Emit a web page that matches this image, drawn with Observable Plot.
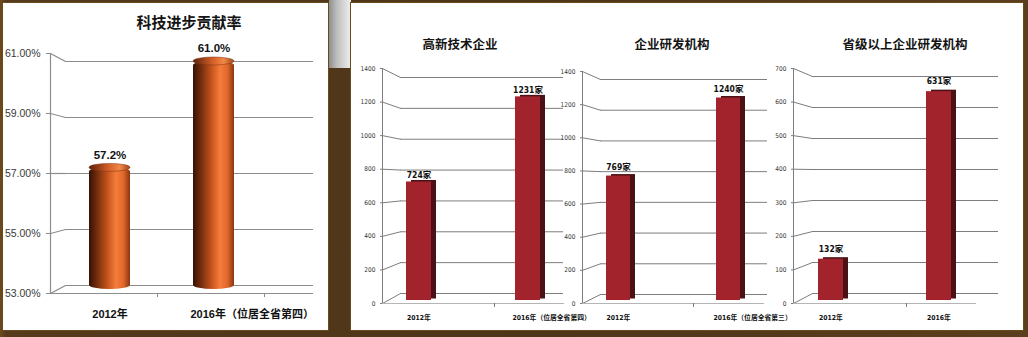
<!DOCTYPE html>
<html>
<head>
<meta charset="utf-8">
<script src="https://cdn.jsdelivr.net/npm/d3@7"></script>
<script src="https://cdn.jsdelivr.net/npm/@observablehq/plot@0.6"></script>
<style>
html, body { margin: 0; padding: 0; background: #553a1c; }
#page { position: relative; width: 1028px; height: 337px; overflow: hidden;
  background: linear-gradient(90deg, #6e4b1e 0px, #553a1c 6px, #4d3519 50%, #5a3e1d 100%); }
.panel { position: absolute; background: #fff; box-sizing: border-box; border: 1px solid #6a4a1c; }
.shade { position: absolute; left: 329px; top: 0; width: 22px; height: 68px;
  background: linear-gradient(90deg, #8e8e8e 0%, #bdbdbd 35%, #efefef 100%); }
.layer { position: absolute; left: 0; top: 0; pointer-events: none; }
.title { position: absolute; transform: translate(-50%, -50%); white-space: nowrap;
  font-family: "Noto Sans CJK SC", sans-serif; font-weight: 700; color: #141414; }
</style>
</head>
<body>
<div id="page">
  <div class="shade"></div>
  <div class="panel" style="left:2px; top:2px; width:327px; height:329px;"></div>
  <div class="panel" style="left:350px; top:2px; width:674px; height:329px;"></div>
  <svg width="0" height="0" style="position:absolute">
    <defs>
      <linearGradient id="cyl" x1="0" x2="1" y1="0" y2="0">
        <stop offset="0" stop-color="#361104"/>
        <stop offset="0.18" stop-color="#6e2a0c"/>
        <stop offset="0.45" stop-color="#c4541c"/>
        <stop offset="0.66" stop-color="#f57c3a"/>
        <stop offset="0.84" stop-color="#e0682a"/>
        <stop offset="1" stop-color="#8a3510"/>
      </linearGradient>
      <linearGradient id="cap" x1="0" x2="1" y1="0" y2="0">
        <stop offset="0" stop-color="#5a200a"/>
        <stop offset="0.5" stop-color="#d9622a"/>
        <stop offset="0.75" stop-color="#f0884a"/>
        <stop offset="1" stop-color="#a04516"/>
      </linearGradient>
    </defs>
  </svg>
</div>
<script>
// ---------- data ----------
const rateTitle = "科技进步贡献率";
const rateCategories = ["2012年", "2016年（位居全省第四）"];
const rateValues = [57.2, 61.0];
const rateTicks = [53, 55, 57, 59, 61];

const hiTechTitle = "高新技术企业";
const hiTechCategories = ["2012年", "2016年（位居全省第四）"];
const hiTechValues = [724, 1231];

const rdTitle = "企业研发机构";
const rdCategories = ["2012年", "2016年（位居全省第三）"];
const rdValues = [769, 1240];

const provTitle = "省级以上企业研发机构";
const provCategories = ["2012年", "2016年"];
const provValues = [132, 631];

const countTicks = [0, 200, 400, 600, 800, 1000, 1200, 1400];
const provTicks = [0, 100, 200, 300, 400, 500, 600, 700];

// ---------- layout ----------
const W = 1028, H = 337;
const page = document.getElementById("page");
const addLayer = node => { node.classList.add("layer"); page.appendChild(node); };
const addTitle = (text, x, y, size) => {
  const d = document.createElement("div");
  d.className = "title"; d.textContent = text;
  d.style.left = x + "px"; d.style.top = y + "px"; d.style.fontSize = size + "px";
  page.appendChild(d);
};

function buildChart(cfg) {
  const d0 = cfg.ticks[0], d1 = cfg.ticks[cfg.ticks.length - 1];
  const domain = [d0, d1];
  const fy = Plot.scale({y: {domain, range: cfg.front}});
  const by = Plot.scale({y: {domain, range: cfg.back}});
  const span = cfg.wallRight - cfg.axisX;
  const xLin = {type: "linear", domain: [0, span], range: [cfg.axisX, cfg.wallRight], axis: null};
  const base = {
    width: W, height: H, marginLeft: cfg.axisX, marginRight: W - cfg.wallRight,
    marginTop: 0, marginBottom: 0,
    style: {background: "transparent", overflow: "visible", fontFamily: cfg.font}
  };
  // back wall
  addLayer(Plot.plot({
    ...base, x: xLin, y: {domain, range: cfg.back, axis: null},
    marks: [
      Plot.ruleY(cfg.ticks, {x1: cfg.depth, x2: span, stroke: cfg.gridColor, strokeWidth: cfg.gridWidth})
    ]
  }));
  // front frame + axis
  addLayer(Plot.plot({
    ...base, x: xLin, y: {domain, range: cfg.front, axis: null},
    marks: [
      Plot.link(cfg.ticks, {x1: 0, x2: cfg.depth, y1: d => d, y2: d => fy.invert(by.apply(d)),
        stroke: cfg.gridColor, strokeWidth: cfg.gridWidth}),
      Plot.ruleY([d0], {x1: 0, x2: cfg.floorLen, stroke: cfg.floorColor, strokeWidth: cfg.gridWidth}),
      Plot.ruleX(cfg.boundaries, {y1: d0, y2: d0, insetBottom: -4, stroke: cfg.gridColor}),
      Plot.ruleX([0], {y1: d0, y2: d1, stroke: cfg.gridColor, strokeWidth: cfg.gridWidth}),
      Plot.axisY(cfg.ticks, {anchor: "left", tickSize: cfg.tickSize, tickPadding: cfg.tickPadding,
        tickFormat: cfg.tickFormat, fontSize: cfg.tickFont, fill: cfg.tickColor,
        stroke: cfg.gridColor, label: null})
    ]
  }));
  // bars
  const bars = cfg.categories.map((c, i) => ({category: c, value: cfg.values[i]}));
  const xBand = {type: "band", domain: cfg.categories, range: cfg.barRange,
    paddingInner: cfg.paddingInner, paddingOuter: cfg.paddingOuter, axis: null};
  const bw = Plot.scale({x: xBand}).bandwidth;
  const barMarks = cfg.cylinder ? [
    Plot.barY(bars, {x: "category", y1: d0, y2: "value", insetBottom: -4, rx: bw / 2, ry: 4, fill: "url(#cyl)"}),
    Plot.barY(bars, {x: "category", y1: "value", y2: "value", insetTop: -4, insetBottom: -4, rx: bw / 2, ry: 4,
      fill: "url(#cap)", stroke: "#7a3210", strokeWidth: 0.5})
  ] : [
    Plot.barY(bars, {x: "category", y1: d0, y2: "value", insetBottom: 3, dx: 5, dy: -1.5, fill: cfg.sideColor}),
    Plot.barY(bars, {x: "category", y1: d0, y2: "value", insetBottom: 3, fill: cfg.barColor})
  ];
  addLayer(Plot.plot({
    ...base, marginLeft: 0, marginRight: 0, marginBottom: H - cfg.labelY,
    x: xBand, y: {domain, range: cfg.barScale, axis: null},
    marks: [
      ...barMarks,
      Plot.text(bars, {x: "category", y: "value", text: cfg.valueFormat, dy: cfg.valueDy,
        fontSize: cfg.valueFont, fontWeight: "bold", fill: "#111"}),
      Plot.text(bars.filter(d => d.category.length <= 6), {x: "category", text: "category",
        frameAnchor: "bottom", lineAnchor: "middle", fontSize: cfg.catFont, fontWeight: "bold", fill: "#111"}),
      Plot.text(bars.filter(d => d.category.length > 6), {x: "category", text: "category",
        frameAnchor: "bottom", lineAnchor: "middle", textAnchor: "start", dx: -bw / 2 - 3,
        fontSize: cfg.catFont, fontWeight: "bold", fill: "#111"})
    ]
  }));
}

const narrow = '"Liberation Sans Narrow", "DejaVu Sans Condensed", "Liberation Sans", "Noto Sans CJK SC", sans-serif';
const rightCommon = {
  font: narrow, gridColor: "#7d7d7d", gridWidth: 1, floorColor: "#b5b5b5",
  tickSize: 2, tickPadding: 5, tickFont: 6.5, tickColor: "#333",
  tickFormat: d => String(d), valueFont: 8.5, catFont: 6.8, labelY: 317,
  barColor: "#a2232b", sideColor: "#4a1216", valueFormat: d => d.value + "家"
};

// Left: 科技进步贡献率
buildChart({
  ticks: rateTicks, categories: rateCategories, values: rateValues,
  font: '"Liberation Sans", "Noto Sans CJK SC", sans-serif',
  axisX: 50, depth: 15, wallRight: 313, floorLen: 263, boundaries: [107, 214],
  front: [293, 53], back: [285, 61], barScale: [285, 61],
  barRange: [50, 272], paddingInner: 0.606, paddingOuter: 0.365,
  gridColor: "#8c8c8c", gridWidth: 1.2, floorColor: "#8c8c8c",
  tickSize: 4, tickPadding: 6, tickFont: 10.5, tickColor: "#3a3a3a",
  tickFormat: d => d3.format(".2f")(d) + "%",
  cylinder: true, valueFormat: d => d3.format(".1f")(d.value) + "%",
  valueDy: -13, valueFont: 11.5, catFont: 11, labelY: 314
});
addTitle(rateTitle, 189, 21, 15);

// 高新技术企业
buildChart({
  ...rightCommon, ticks: countTicks, categories: hiTechCategories, values: hiTechValues,
  axisX: 382, depth: 18, wallRight: 563, floorLen: 182, boundaries: [112],
  front: [303, 68], back: [293, 77], barScale: [303, 68],
  barRange: [382, 564], paddingInner: 0.773, paddingOuter: 0.218, valueDy: -7
});
addTitle(hiTechTitle, 460, 43, 12.5);

// 企业研发机构
buildChart({
  ...rightCommon, ticks: countTicks, categories: rdCategories, values: rdValues,
  axisX: 582, depth: 18, wallRight: 767, floorLen: 182, boundaries: [111],
  front: [303, 71], back: [294, 79], barScale: [303, 71],
  barRange: [582, 764], paddingInner: 0.782, paddingOuter: 0.218, valueDy: -9
});
addTitle(rdTitle, 672, 43, 12.5);

// 省级以上企业研发机构
buildChart({
  ...rightCommon, ticks: provTicks, categories: provCategories, values: provValues,
  axisX: 793, depth: 19, wallRight: 998, floorLen: 183, boundaries: [113],
  front: [303, 68], back: [293, 76], barScale: [303, 68],
  barRange: [793, 976], paddingInner: 0.77, paddingOuter: 0.229, valueDy: -10
});
addTitle(provTitle, 905, 43, 12.5);
</script>
</body>
</html>
